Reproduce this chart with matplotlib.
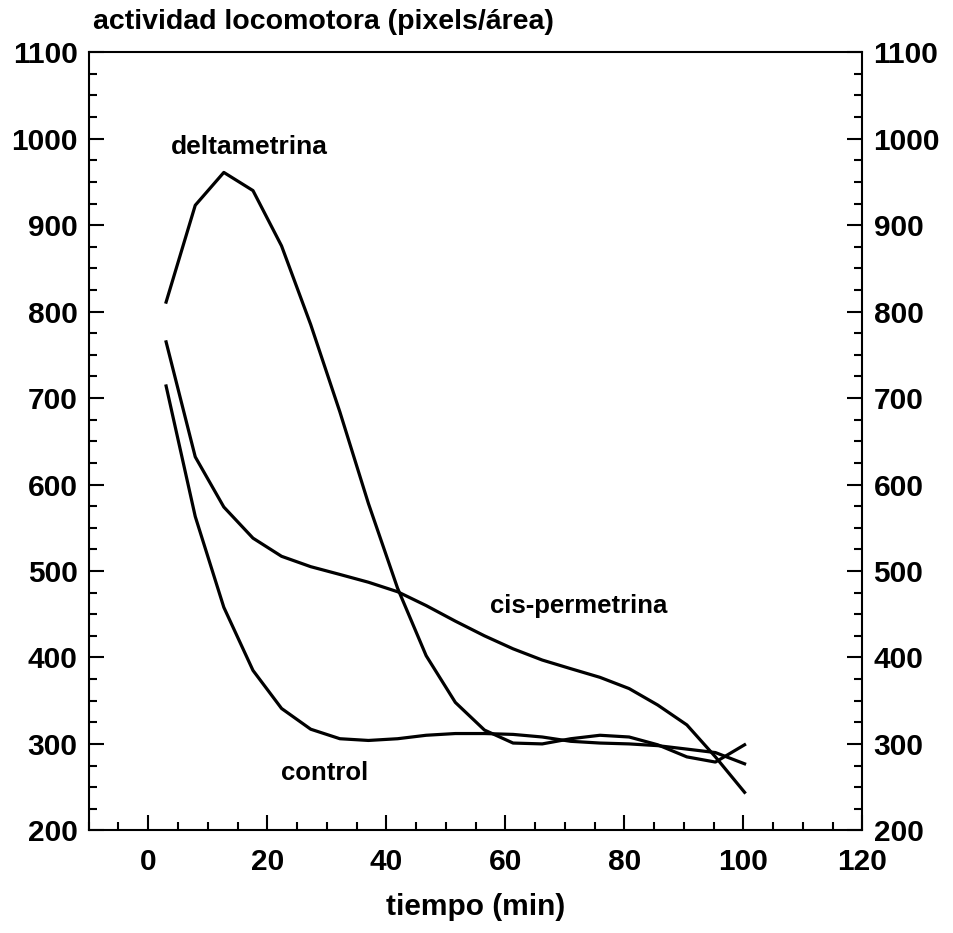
import numpy as np
import matplotlib.pyplot as plt
from matplotlib.ticker import MultipleLocator

plt.rcParams['font.family'] = ['Liberation Sans', 'DejaVu Sans']
plt.rcParams['font.weight'] = 'bold'

# tiempos de muestreo (min)
tiempo = [3.0, 7.9, 12.7, 17.6, 22.4, 27.3, 32.2, 37.0, 41.9, 46.7, 51.6,
          56.5, 61.3, 66.2, 71.0, 75.9, 80.8, 85.6, 90.5, 95.3, 100.2]

deltametrina = [811, 923, 961, 940, 876, 785, 684, 578, 480, 402, 348,
                316, 301, 300, 306, 310, 308, 299, 285, 279, 299]
cis_permetrina = [765, 632, 574, 538, 517, 505, 496, 487, 476, 460, 442,
                  425, 410, 397, 387, 377, 364, 345, 322, 285, 244]
control = [714, 563, 458, 385, 341, 317, 306, 304, 306, 310, 312,
           312, 311, 308, 303, 301, 300, 298, 294, 290, 277]

fig = plt.figure(figsize=(9.54, 9.33), dpi=100)
ax = fig.add_axes([0.093, 0.110, 0.811, 0.834])

for serie in (deltametrina, cis_permetrina, control):
    ax.plot(tiempo, serie, color='black', lw=2.3)

ax.set_xlim(-10, 120)
ax.set_ylim(200, 1100)
ax.xaxis.set_major_locator(MultipleLocator(20))
ax.xaxis.set_minor_locator(MultipleLocator(5))
ax.yaxis.set_major_locator(MultipleLocator(100))
ax.yaxis.set_minor_locator(MultipleLocator(25))

ax.tick_params(which='both', direction='in', width=1.5, top=False,
               right=True, labelright=True, labelsize=21.5)
ax.tick_params(which='major', length=11)
ax.tick_params(which='minor', length=6)
ax.tick_params(axis='x', pad=13)
ax.tick_params(axis='y', pad=8)
for lab in ax.get_xticklabels() + ax.get_yticklabels():
    lab.set_fontweight('bold')
for s in ax.spines.values():
    s.set_linewidth(1.5)

ax.set_xlabel("tiempo (min)", fontsize=21.5, fontweight='bold', labelpad=12)
fig.text(0.098, 0.976, "actividad locomotora (pixels/área)", fontsize=20.5,
         fontweight='bold', ha='left', va='center')

ax.text(17, 990, "deltametrina", fontsize=19, fontweight='bold', ha='center', va='center')
ax.text(72.3, 459, "cis-permetrina", fontsize=18.5, fontweight='bold', ha='center', va='center')
ax.text(29.7, 266, "control", fontsize=18.5, fontweight='bold', ha='center', va='center')

fig.savefig("out.png", dpi=100)
